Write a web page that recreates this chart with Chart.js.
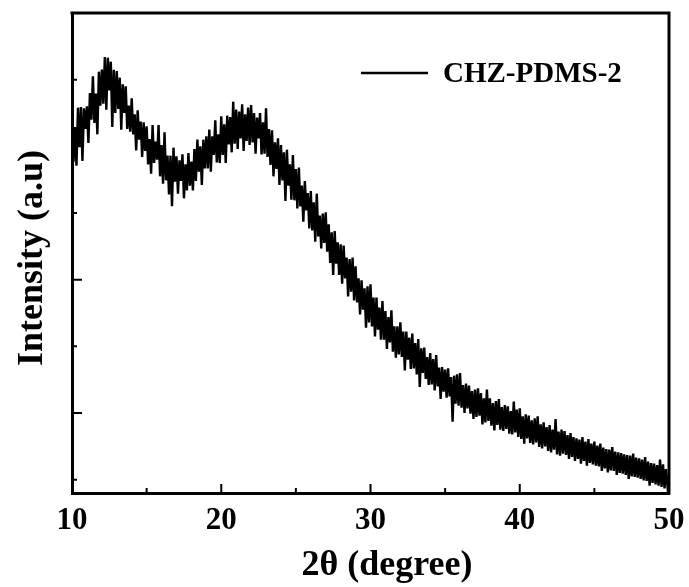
<!DOCTYPE html>
<html><head><meta charset="utf-8">
<script src="https://cdn.jsdelivr.net/npm/chart.js@4.4.1/dist/chart.umd.min.js"></script>
<style>html,body{margin:0;padding:0;background:#fff}#wrap{width:689px;height:587px}</style>
</head><body><div id="wrap"><canvas id="c" width="689" height="587"></canvas></div>
<script>
// 2θ axis: first angle and sampling step (degrees)
const angleStart = 10;
const angleStep = 0.1;
// Intensity (a.u.), one row per degree (10.0 ... 50.0)
const intensity = [
 5.40,4.77,5.29,4.71,5.58,5.00,5.59,4.78,5.57,5.26,
 5.60,5.05,5.80,5.40,6.05,5.35,5.79,5.18,6.12,5.61,
 6.15,5.64,6.34,5.55,6.33,5.84,6.27,5.29,6.15,5.50,
 6.13,5.56,6.03,5.25,5.93,5.50,5.90,5.26,5.61,5.22,
 5.72,5.18,5.48,4.94,5.54,5.10,5.37,4.84,5.36,4.93,
 5.30,4.73,5.11,4.59,5.32,4.75,5.07,4.80,5.32,4.55,
 5.02,4.44,5.21,4.49,4.86,4.28,4.86,4.10,4.98,4.47,
 4.85,4.29,4.79,4.48,4.88,4.22,4.73,4.34,4.90,4.41,
 4.77,4.34,4.96,4.48,5.10,4.62,5.00,4.42,5.10,4.67,
 5.15,4.67,5.25,4.62,5.15,4.87,5.39,4.76,5.18,4.75,
 5.45,4.87,5.33,4.75,5.46,5.03,5.44,4.91,5.67,5.04,
 5.55,4.96,5.52,5.12,5.63,4.93,5.48,5.08,5.58,5.02,
 5.62,5.06,5.50,4.89,5.43,5.12,5.50,4.88,5.36,4.89,
 5.57,4.84,5.26,4.72,5.24,4.55,5.06,4.66,5.12,4.42,
 5.02,4.49,4.91,4.18,4.95,4.41,4.73,4.20,4.87,4.19,
 4.66,4.07,4.68,4.10,4.41,3.87,4.48,4.04,4.30,3.77,
 4.33,3.74,4.16,3.57,4.29,3.65,3.96,3.47,3.99,3.55,
 4.01,3.42,3.83,3.25,3.71,3.07,3.73,3.24,3.56,3.07,
 3.53,2.94,3.51,3.02,3.33,2.75,3.31,2.82,3.33,2.69,
 3.20,2.66,3.02,2.48,2.99,2.55,2.87,2.28,2.90,2.36,
 2.93,2.30,2.73,2.15,2.73,2.25,2.58,2.10,2.68,2.10,
 2.53,1.96,2.44,2.06,2.54,1.92,2.30,1.83,2.30,1.88,
 2.36,1.84,2.22,1.64,2.22,1.80,2.13,1.66,2.19,1.67,
 2.05,1.58,2.11,1.39,1.97,1.60,1.98,1.51,1.84,1.42,
 1.90,1.43,1.81,1.34,1.87,1.40,1.68,1.21,1.69,1.32,
 1.65,1.23,1.67,1.25,1.54,0.87,1.56,1.14,1.58,1.11,
 1.60,1.08,1.42,1.00,1.44,1.07,1.41,0.99,1.33,0.91,
 1.35,0.94,1.37,0.96,1.30,0.83,1.22,0.86,1.35,0.88,
 1.22,0.81,1.15,0.74,1.18,0.82,1.21,0.75,1.09,0.73,
 1.12,0.76,1.10,0.69,1.03,0.68,1.17,0.71,1.05,0.64,
 1.07,0.61,0.95,0.54,0.98,0.62,0.96,0.55,0.89,0.53,
 0.92,0.56,0.95,0.49,0.83,0.47,0.86,0.50,0.79,0.43,
 0.82,0.41,0.75,0.45,0.91,0.38,0.72,0.36,0.75,0.39,
 0.73,0.37,0.67,0.31,0.70,0.34,0.64,0.28,0.62,0.31,
 0.60,0.24,0.64,0.28,0.57,0.21,0.61,0.25,0.54,0.23,
 0.57,0.21,0.51,0.20,0.54,0.13,0.48,0.17,0.46,0.11,
 0.45,0.14,0.49,0.13,0.42,0.07,0.41,0.10,0.40,0.09,
 0.38,0.07,0.37,0.01,0.36,0.05,0.39,0.04,0.33,0.03,
 0.32,0.01,0.30,-0.01,0.34,-0.02,0.27,-0.09,0.25,-0.05,
 0.24,-0.07,0.22,-0.09,0.30,-0.11,0.23,-0.13,0.16,-0.10,
 0.05
];
const xMajorTicks = [10, 20, 30, 40, 50];
const xMinorTicks = [15, 25, 35, 45];
const yMajorTicks = [1, 3, 5];
const yMinorTicks = [0, 2, 4, 6];
const seriesName = 'CHZ-PDMS-2';
const xTitle = '2θ (degree)';
const yTitle = 'Intensity (a.u)';

const SERIF = '"Liberation Serif","Times New Roman",Times,serif';
const points = intensity.map((v, i) => ({ x: +(angleStart + i * angleStep).toFixed(1), y: v }));

const decor = {
  id: 'decor',
  afterDraw(chart) {
    const { ctx, chartArea: a, scales: { x, y } } = chart;
    ctx.save();
    ctx.strokeStyle = '#000';
    ctx.lineCap = 'butt';
    // frame top/right
    ctx.lineWidth = 3;
    ctx.beginPath();
    ctx.moveTo(a.left - 1.5, a.top); ctx.lineTo(a.right, a.top); ctx.lineTo(a.right, a.bottom + 1.5);
    ctx.stroke();
    // inward ticks
    ctx.lineWidth = 2;
    ctx.beginPath();
    xMajorTicks.forEach(t => { const p = x.getPixelForValue(t); ctx.moveTo(p, a.bottom); ctx.lineTo(p, a.bottom - 9); });
    xMinorTicks.forEach(t => { const p = x.getPixelForValue(t); ctx.moveTo(p, a.bottom); ctx.lineTo(p, a.bottom - 5); });
    yMajorTicks.forEach(t => { const p = y.getPixelForValue(t); ctx.moveTo(a.left, p); ctx.lineTo(a.left + 10, p); });
    yMinorTicks.forEach(t => { const p = y.getPixelForValue(t); ctx.moveTo(a.left, p); ctx.lineTo(a.left + 5, p); });
    ctx.stroke();
    // legend
    ctx.lineWidth = 2.5;
    ctx.beginPath(); ctx.moveTo(361, 73); ctx.lineTo(428, 73); ctx.stroke();
    ctx.fillStyle = '#000';
    ctx.font = 'bold 29px ' + SERIF;
    ctx.textAlign = 'left'; ctx.textBaseline = 'middle';
    ctx.fillText(seriesName, 443, 75);
    // axis titles
    ctx.font = 'bold 36px ' + SERIF;
    ctx.textAlign = 'center';
    ctx.fillText(xTitle, 387, 566);
    ctx.translate(33, 258); ctx.rotate(-Math.PI / 2);
    ctx.fillText(yTitle, 0, 0);
    ctx.restore();
  }
};

new Chart(document.getElementById('c'), {
  type: 'line',
  data: { datasets: [{ label: seriesName, data: points, borderColor: '#000', borderWidth: 2.4,
    pointRadius: 0, tension: 0, fill: false }] },
  options: {
    responsive: false, animation: false, devicePixelRatio: 1,
    layout: { padding: { top: 13, right: 20, left: 0, bottom: 0 } },
    plugins: { legend: { display: false }, tooltip: { enabled: false } },
    scales: {
      x: { type: 'linear', min: 10, max: 50, position: 'bottom',
        grid: { display: false, drawTicks: false },
        border: { display: true, width: 3, color: '#000' },
        ticks: { stepSize: 10, maxRotation: 0, padding: 9, color: '#000',
          font: { family: SERIF, size: 31, weight: 'bold' } },
        afterFit: s => { s.height = 94; s.paddingRight = 0; s.paddingLeft = 0; } },
      y: { type: 'linear', min: -0.2, max: 7, position: 'left',
        grid: { display: false, drawTicks: false },
        border: { display: true, width: 3, color: '#000' },
        ticks: { display: false },
        afterFit: s => { s.width = 72; } }
    }
  },
  plugins: [decor]
});
</script></body></html>
